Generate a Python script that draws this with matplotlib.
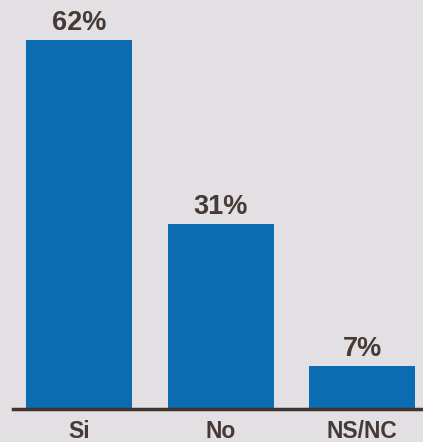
import matplotlib
matplotlib.use("Agg")
import matplotlib.pyplot as plt
import matplotlib.transforms as mtrans

categories = ["Si", "No", "NS/NC"]
values = [62, 31, 7]
labels = ["62%", "31%", "7%"]

W, H = 423, 442
fig = plt.figure(figsize=(W/100, H/100), dpi=100)
bg = "#e2e0e2"
fig.patch.set_facecolor(bg)

base_px = 408
top_px = 40
ax = fig.add_axes([0, (H - base_px)/H, 1, base_px/H])
ax.set_facecolor(bg)
ytop = base_px / (base_px - top_px) * 62
ax.set_ylim(0, ytop)
step = 141.5
ax.set_xlim(-79/step, (W - 79)/step)

x = list(range(len(categories)))
ax.bar(x, values, width=106/step, color="#0b6cb2", zorder=2)

txt = "#463a36"
off_up = mtrans.ScaledTranslation(0, 4/100, fig.dpi_scale_trans)
for xi, v, lab in zip(x, values, labels):
    ax.text(xi, v, lab, ha="center", va="bottom", fontsize=19.5,
            fontweight="bold", family="Liberation Sans", color=txt, clip_on=False,
            transform=ax.transData + off_up)

off_dn = mtrans.ScaledTranslation(0, -24/100, fig.dpi_scale_trans)
for xi, c in zip(x, categories):
    ax.text(xi, 0, c, ha="center", va="center", fontsize=16.5, fontweight="bold",
            family="Liberation Sans", color=txt, clip_on=False,
            transform=ax.transData + off_dn)

ax.axhline(-0.25, xmin=13/W, xmax=1, color="#3f3430", lw=2.5, clip_on=False, zorder=3)

for s in ax.spines.values():
    s.set_visible(False)
ax.set_xticks([])
ax.set_yticks([])
fig.savefig("out.png", dpi=100, facecolor=bg)
